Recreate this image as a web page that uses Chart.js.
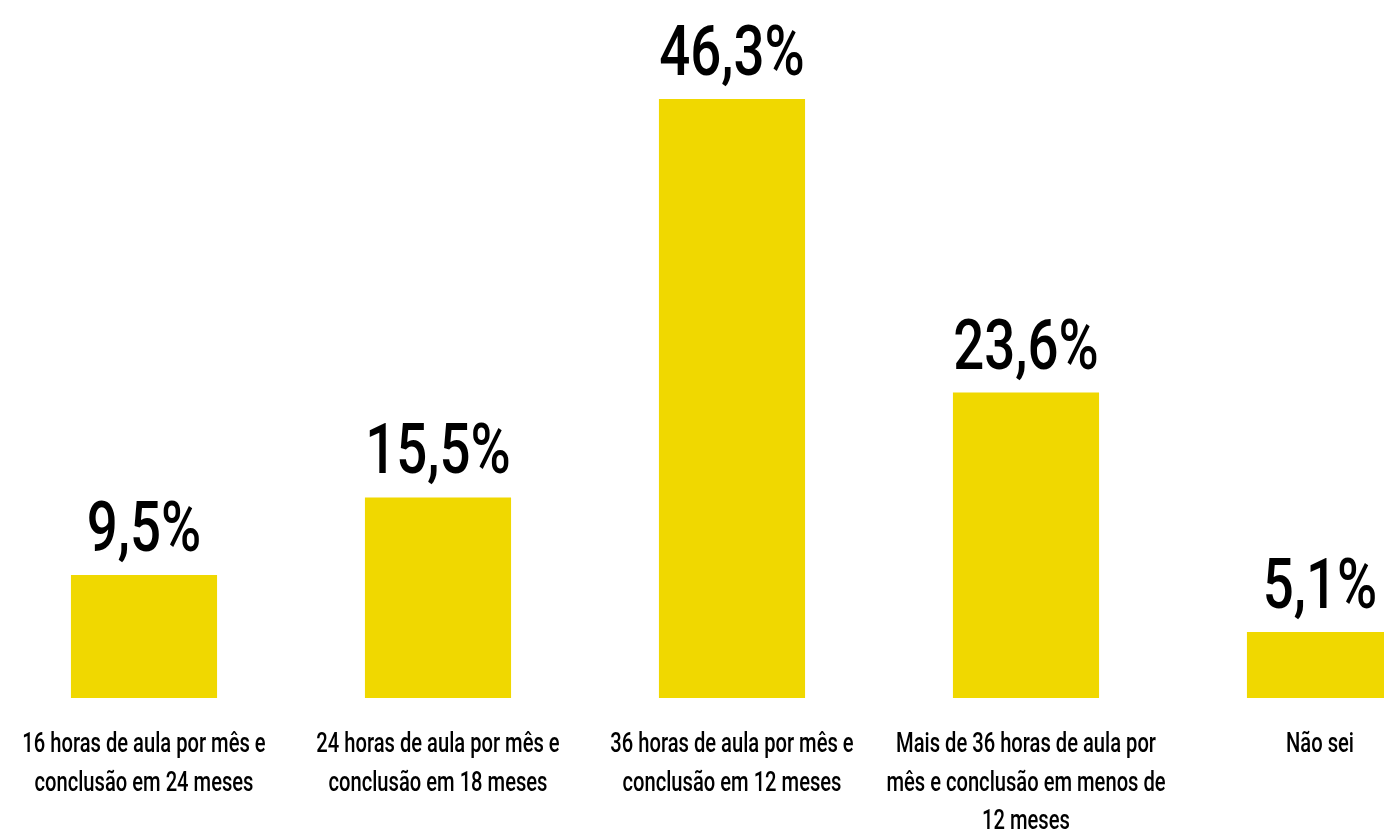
<!DOCTYPE html>
<html lang="pt-BR">
<head>
<meta charset="utf-8">
<title>Carga horária preferida</title>
<script src="https://cdn.jsdelivr.net/npm/chart.js@4/dist/chart.umd.min.js"></script>
<style>
  html, body { margin: 0; padding: 0; background: #fff; overflow: hidden; width: 1384px; height: 833px; }
  #wrap { position: absolute; left: -3px; top: 0; }
</style>
</head>
<body>
<div id="wrap"><canvas id="grafico" width="1470" height="833"></canvas></div>
<script>
const categorias = [
  ["16 horas de aula por mês e", "conclusão em 24 meses"],
  ["24 horas de aula por mês e", "conclusão em 18 meses"],
  ["36 horas de aula por mês e", "conclusão em 12 meses"],
  ["Mais de 36 horas de aula por", "mês e conclusão em menos de", "12 meses"],
  ["Não sei"]
];
const valores = [9.5, 15.5, 46.3, 23.6, 5.1];

const amarelo = "#F0D800";

// texto "condensado": fonte comum comprimida na horizontal
function textoEstreito(ctx, txt, x, y, escala) {
  ctx.save();
  ctx.translate(x, y);
  ctx.scale(escala, 1);
  ctx.fillText(txt, 0, 0);
  ctx.restore();
}

const rotulos = {
  id: "rotulos",
  afterDatasetsDraw(chart) {
    const ctx = chart.ctx;
    const meta = chart.getDatasetMeta(0);
    const x = chart.scales.x;
    ctx.save();
    ctx.fillStyle = "#000";
    ctx.textAlign = "center";
    ctx.textBaseline = "alphabetic";

    ctx.font = "500 70px Roboto";
    meta.data.forEach((bar, i) => {
      const txt = valores[i].toFixed(1).replace(".", ",") + "%";
      textoEstreito(ctx, txt, bar.x, bar.y - 24, 0.78);
    });

    ctx.font = "500 28px Roboto";
    categorias.forEach((linhas, i) => {
      const cx = x.getPixelForValue(i);
      linhas.forEach((l, k) => {
        textoEstreito(ctx, l, cx, chart.chartArea.bottom + 54 + k * 38.5, 0.72);
      });
    });
    ctx.restore();
  }
};

new Chart(document.getElementById("grafico"), {
  type: "bar",
  data: {
    labels: categorias.map(c => c.join(" ")),
    datasets: [{
      data: valores,
      backgroundColor: amarelo,
      borderWidth: 0,
      categoryPercentage: 1,
      barPercentage: 0.497
    }]
  },
  options: {
    responsive: false,
    animation: false,
    devicePixelRatio: 1,
    layout: { padding: { top: 51, bottom: 135, left: 0, right: 0 } },
    plugins: { legend: { display: false }, tooltip: { enabled: false } },
    scales: {
      x: { display: false },
      y: { display: false, min: 0, max: 50 }
    }
  },
  plugins: [rotulos]
});
</script>
</body>
</html>
